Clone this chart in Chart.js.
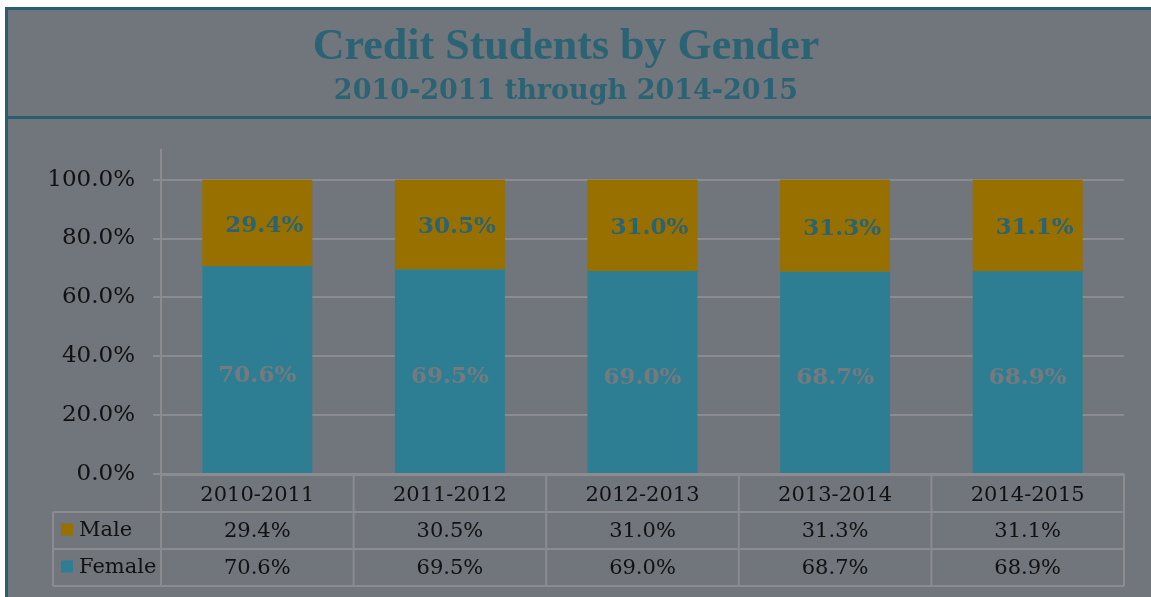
<!DOCTYPE html>
<html lang="en">
<head>
    <meta charset="UTF-8">
    <title>Credit Students by Gender</title>
    <script src="https://cdn.jsdelivr.net/npm/chart.js"></script>
    <style>
        html, body {
            margin: 0;
            padding: 0;
            background: #ffffff;
            overflow: hidden;
        }
        .frame {
            position: absolute;
            left: 5px;
            top: 7px;
            width: 1143px;
            height: 587px;
            background: #71757c;
            border-left: 3px solid #285e6d;
            border-top: 3px solid #285e6d;
        }
        .frame canvas {
            position: absolute;
            left: 0;
            top: 0;
        }
    </style>
</head>
<body>
    <div class="frame">
        <canvas id="genderChart" width="1143" height="587"></canvas>
    </div>

    <script>
        const years = ['2010-2011', '2011-2012', '2012-2013', '2013-2014', '2014-2015'];
        const male = [29.4, 30.5, 31.0, 31.3, 31.1];
        const female = [70.6, 69.5, 69.0, 68.7, 68.9];

        const maleColor = '#987000';
        const femaleColor = '#2e7e93';
        const lineColor = '#8a8c8f';
        const serif = "'DejaVu Serif', serif";

        // data table under the plot + labels inside the bars
        const tablePlugin = {
            id: 'tablePlugin',
            beforeDraw(chart) {
                const ctx = chart.ctx;
                ctx.save();
                ctx.fillStyle = '#285e6d';
                ctx.fillRect(0, 106, chart.width, 3);
                ctx.restore();
            },
            afterDraw(chart) {
                const ctx = chart.ctx;
                const area = chart.chartArea;
                const n = years.length;
                const colW = (area.right - area.left) / n;
                const y1 = area.bottom + 38;
                const y2 = y1 + 37;
                const y3 = y2 + 37;
                const tableLeft = 45;

                ctx.save();
                ctx.strokeStyle = lineColor;
                ctx.lineWidth = 2;
                ctx.beginPath();
                for (let i = 0; i <= n; i++) {
                    const x = area.left + i * colW;
                    ctx.moveTo(x, area.bottom);
                    ctx.lineTo(x, y3);
                }
                ctx.moveTo(area.left, area.bottom + 1);
                ctx.lineTo(area.right, area.bottom + 1);
                [y1, y2, y3].forEach(y => {
                    ctx.moveTo(tableLeft, y);
                    ctx.lineTo(area.right, y);
                });
                ctx.moveTo(tableLeft, y1);
                ctx.lineTo(tableLeft, y3);
                ctx.stroke();

                // legend keys and values
                const rows = [
                    { name: 'Male', color: maleColor, values: male, y: (y1 + y2) / 2 },
                    { name: 'Female', color: femaleColor, values: female, y: (y2 + y3) / 2 }
                ];
                ctx.font = '21px ' + serif;
                ctx.textBaseline = 'middle';
                rows.forEach(r => {
                    ctx.fillStyle = r.color;
                    ctx.fillRect(53, r.y - 7, 12, 12);
                    ctx.fillStyle = '#111111';
                    ctx.textAlign = 'left';
                    ctx.fillText(r.name, 71, r.y);
                    ctx.textAlign = 'center';
                    r.values.forEach((v, i) => {
                        const x = area.left + (i + 0.5) * colW;
                        ctx.fillText(v.toFixed(1) + '%', x, r.y + 1);
                    });
                });

                // labels inside bars
                ctx.font = 'bold 23px ' + serif;
                chart.data.datasets.forEach((ds, di) => {
                    const meta = chart.getDatasetMeta(di);
                    meta.data.forEach((bar, i) => {
                        const cy = (bar.y + bar.base) / 2;
                        const isMale = ds.label === 'Male';
                        ctx.fillStyle = isMale ? '#2a6373' : '#767a7e';
                        ctx.textAlign = 'center';
                        ctx.fillText(ds.data[i].toFixed(1) + '%', bar.x + (isMale ? 7 : 0), cy + (isMale ? 3 : 6));
                    });
                });
                ctx.restore();
            }
        };

        const ctx = document.getElementById('genderChart').getContext('2d');
        const genderChart = new Chart(ctx, {
            type: 'bar',
            data: {
                labels: years,
                datasets: [
                    {
                        label: 'Female',
                        data: female,
                        backgroundColor: femaleColor,
                        categoryPercentage: 1,
                        barPercentage: 0.571
                    },
                    {
                        label: 'Male',
                        data: male,
                        backgroundColor: maleColor,
                        categoryPercentage: 1,
                        barPercentage: 0.571
                    }
                ]
            },
            options: {
                responsive: false,
                animation: false,
                layout: {
                    padding: { left: 0, right: 27, top: 0, bottom: 11 }
                },
                plugins: {
                    legend: { display: false },
                    tooltip: { enabled: false },
                    title: {
                        display: true,
                        text: 'Credit Students by Gender',
                        color: '#2a6373',
                        font: { family: "'Liberation Serif', serif", size: 44, weight: 'bold', lineHeight: 1.2 },
                        padding: { top: 11, bottom: 0 }
                    },
                    subtitle: {
                        display: true,
                        text: '2010-2011 through 2014-2015',
                        color: '#2a6373',
                        font: { family: serif, size: 27, weight: 'bold', lineHeight: 1.2 },
                        padding: { top: 2, bottom: 42 }
                    }
                },
                scales: {
                    x: {
                        stacked: true,
                        grid: { display: false, drawTicks: false },
                        border: { display: false },
                        ticks: {
                            color: '#111111',
                            font: { family: serif, size: 21 },
                            padding: 9,
                            maxRotation: 0
                        },
                        afterFit: scale => { scale.height = 112; }
                    },
                    y: {
                        stacked: true,
                        min: 0,
                        max: 110,
                        grid: { color: lineColor, lineWidth: 2, tickLength: 8 },
                        border: { display: true, color: lineColor, width: 2 },
                        ticks: {
                            stepSize: 20,
                            color: '#111111',
                            font: { family: serif, size: 23 },
                            padding: 18,
                            callback: v => v.toFixed(1) + '%'
                        },
                        afterBuildTicks: scale => {
                            scale.ticks = scale.ticks.filter(t => t.value % 20 === 0);
                        },
                        afterFit: scale => { scale.width = 153; }
                    }
                }
            },
            plugins: [tablePlugin]
        });
    </script>
</body>
</html>
